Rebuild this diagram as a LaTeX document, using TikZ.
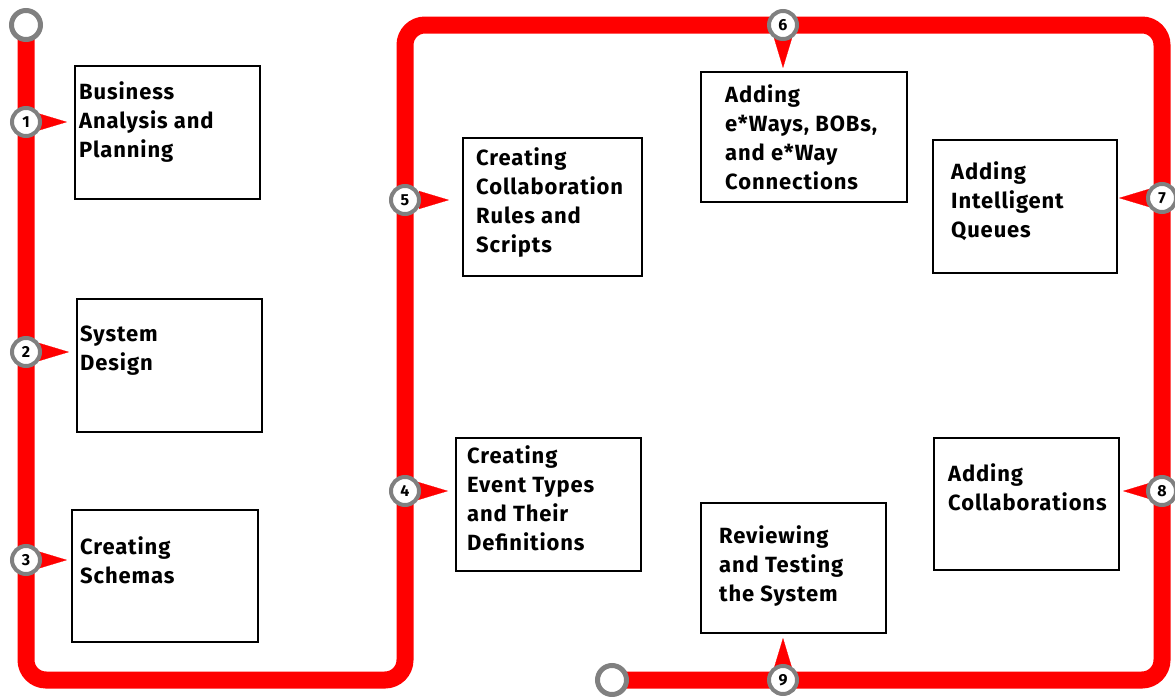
\documentclass[tikz,border=0pt]{standalone}
\usepackage{fontspec}
\setmainfont{Fira Sans}[LetterSpace=4.0]
\usetikzlibrary{arrows.meta, backgrounds}
\definecolor{trackred}{RGB}{255,0,0}
\definecolor{ringgray}{RGB}{128,128,128}

\begin{document}
\begin{tikzpicture}[x=1pt, y=-1pt]
    \tikzstyle{stepbox}=[rectangle, draw=black, line width=2pt, anchor=north west, inner sep=0pt]
    \tikzstyle{steptext}=[anchor=north west, inner sep=0pt, align=left,
                          font=\bfseries\fontsize{22}{29}\selectfont]
    \tikzstyle{station}=[circle, draw=ringgray, line width=4pt, fill=white,
                         minimum size=28pt, inner sep=0pt,
                         font=\bfseries\fontsize{16}{16}\selectfont]
    \tikzstyle{terminal}=[station, line width=5pt, minimum size=29pt]
    \tikzstyle{track}=[draw=trackred, line width=17pt, rounded corners=20pt]
    \tikzstyle{spike}=[draw=trackred, line width=0.2pt, -{Triangle[length=30pt, width=18pt]}]

    \useasboundingbox (0,0) rectangle (1175,696);

    \node[stepbox, minimum width=185pt, minimum height=133pt] (b1) at (74,65)   {};
    \node[stepbox, minimum width=185pt, minimum height=133pt] (b2) at (76,298)  {};
    \node[stepbox, minimum width=186pt, minimum height=132pt] (b3) at (71,509)  {};
    \node[stepbox, minimum width=185pt, minimum height=133pt] (b4) at (455,437) {};
    \node[stepbox, minimum width=179pt, minimum height=138pt] (b5) at (462,137) {};
    \node[stepbox, minimum width=206pt, minimum height=130pt] (b6) at (700,71)  {};
    \node[stepbox, minimum width=184pt, minimum height=133pt] (b7) at (932,139) {};
    \node[stepbox, minimum width=185pt, minimum height=132pt] (b8) at (933,437) {};
    \node[stepbox, minimum width=185pt, minimum height=130pt] (b9) at (700,502) {};

    \node[steptext] (t1) at (79,81)   {Business\\Analysis and\\Planning};
    \node[steptext] (t2) at (80,326)  {System\\Design};
    \node[steptext] (t3) at (80,536)  {Creating\\Schemas};
    \node[steptext] (t4) at (467,445) {Creating\\Event Types\\and Their\\Definitions};
    \node[steptext] (t5) at (476,147) {Creating\\Collaboration\\Rules and\\Scripts};
    \node[steptext] (t6) at (725,84)  {Adding\\e*Ways, BOBs,\\and e*Way\\Connections};
    \node[steptext] (t7) at (951,161) {Adding\\Intelligent\\Queues};
    \node[steptext] (t8) at (948,463) {Adding\\Collaborations};
    \node[steptext] (t9) at (719,525) {Reviewing\\and Testing\\the System};

    \node[terminal] (s1) at (26,25)   {};
    \node[station]  (c1) at (26,122)  {1};
    \node[station]  (c2) at (26,352)  {2};
    \node[station]  (c3) at (26,560)  {3};
    \node[station]  (c4) at (405,491) {4};
    \node[station]  (c5) at (405,200) {5};
    \node[station]  (c6) at (783,25)  {6};
    \node[station]  (c7) at (1162,198) {7};
    \node[station]  (c8) at (1162,491) {8};
    \node[station]  (c9) at (783,680) {9};
    \node[terminal] (s2) at (612,680) {};

    \begin{pgfonlayer}{background}
    \path[track] (s1.center) -- (c1.center) -- (c2.center) -- (c3.center)
          -- (s1.center |- c9.center) -- (c4.center |- c9.center)
          -- (c4.center) -- (c5.center) -- (c5.center |- c6.center)
          -- (c6.center) -- (c7.center |- c6.center) -- (c7.center)
          -- (c8.center) -- (c8.center |- c9.center) -- (c9.center) -- (s2.center);

    \path (c1) edge[spike, shorten >=7pt] (c1 -| b1.west)
          (c2) edge[spike, shorten >=7pt] (c2 -| b2.west)
          (c3) edge[spike, shorten >=4pt] (c3 -| b3.west)
          (c4) edge[spike, shorten >=7pt] (c4 -| b4.west)
          (c5) edge[spike, shorten >=13pt] (c5 -| b5.west)
          (c6) edge[spike, shorten >=3pt] (c6 |- b6.north)
          (c7) edge[spike, shorten >=1pt] (c7 -| b7.east)
          (c8) edge[spike, shorten >=3pt] (c8 -| b8.east)
          (c9) edge[spike, shorten >=4pt] (c9 |- b9.south);
    \end{pgfonlayer}
\end{tikzpicture}
\end{document}
